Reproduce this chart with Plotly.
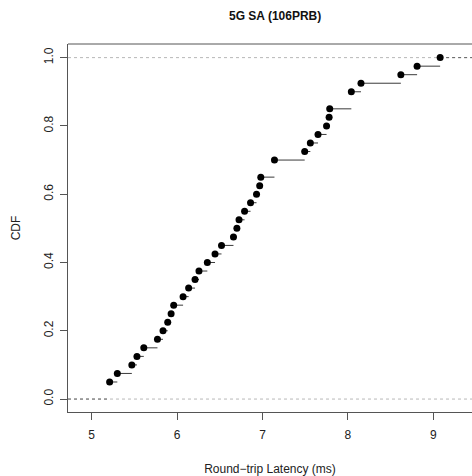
import plotly.graph_objects as go

# Unique latency values (ms) and ECDF level at each
latency = [5.21, 5.30, 5.47, 5.53, 5.61, 5.77, 5.835, 5.89, 5.93, 5.96,
           6.07, 6.135, 6.21, 6.256, 6.354, 6.444, 6.52, 6.66, 6.70, 6.725,
           6.79, 6.86, 6.93, 6.967, 6.98, 7.14, 7.494, 7.56, 7.65, 7.75,
           7.78, 7.787, 8.04, 8.153, 8.62, 8.81, 9.08]
cdf = [0.05, 0.075, 0.1, 0.125, 0.15, 0.175, 0.2, 0.225, 0.25, 0.275,
       0.3, 0.325, 0.35, 0.375, 0.4, 0.425, 0.45, 0.475, 0.5, 0.525,
       0.55, 0.575, 0.6, 0.625, 0.65, 0.7, 0.725, 0.75, 0.775, 0.8,
       0.825, 0.85, 0.9, 0.925, 0.95, 0.975, 1.0]
x_ticks = [5, 6, 7, 8, 9]
y_ticks = [0.0, 0.2, 0.4, 0.6, 0.8, 1.0]
y_tick_labels = ["0.0", "0.2", "0.4", "0.6", "0.8", "1.0"]

XR = [4.7225, 9.453]
YR = [-0.0379, 1.0399]

seg_x, seg_y = [], []
for i in range(len(latency) - 1):
    seg_x += [latency[i], latency[i + 1], None]
    seg_y += [cdf[i], cdf[i], None]

FONT = "Liberation Sans, Arial, Helvetica, sans-serif"

fig = go.Figure()
# reference lines at 0 and 1
for yv in (0, 1):
    fig.add_shape(type="line", xref="paper", x0=0, x1=1, yref="y", y0=yv, y1=yv,
                  line=dict(color="#b8b8b8", width=1, dash="3px,3px"), layer="below")
# steps
fig.add_trace(go.Scatter(x=seg_x, y=seg_y, mode="lines",
                         line=dict(color="#3a3a3a", width=1), hoverinfo="skip"))
# extensions
fig.add_trace(go.Scatter(x=[XR[0], latency[0]], y=[0, 0], mode="lines",
                         line=dict(color="#666", width=1, dash="3px,3px"), hoverinfo="skip"))
fig.add_trace(go.Scatter(x=[latency[-1], XR[1]], y=[cdf[-1], cdf[-1]], mode="lines",
                         line=dict(color="#666", width=1, dash="3px,3px"), hoverinfo="skip"))
# points
fig.add_trace(go.Scatter(x=latency, y=cdf, mode="markers",
                         marker=dict(color="black", size=7)))

# top border
fig.add_shape(type="line", xref="paper", yref="paper", x0=0, x1=1, y0=1, y1=1,
              line=dict(color="#555", width=1))

fig.update_layout(
    width=472, height=476,
    margin=dict(l=68, r=0, t=44, b=62),
    plot_bgcolor="white", paper_bgcolor="white",
    showlegend=False,
    font=dict(family=FONT, size=12, color="#222"),
    xaxis=dict(range=XR, tickvals=x_ticks, ticks="outside", ticklen=7,
               tickcolor="#555", showline=True, linecolor="#555", linewidth=1,
               showgrid=False, zeroline=False, ticklabelstandoff=5,
               tickfont=dict(size=12, color="#222"),
               title=dict(text="Round−trip Latency (ms)", standoff=25,
                          font=dict(size=12, color="#222"))),
    yaxis=dict(range=YR, tickvals=y_ticks, ticktext=y_tick_labels,
               ticks="outside", ticklen=7, tickcolor="#555", tickangle=-90,
               showline=True, linecolor="#555", linewidth=1,
               showgrid=False, zeroline=False, ticklabelstandoff=2,
               tickfont=dict(size=12, color="#222"),
               title=dict(text="CDF", standoff=19,
                          font=dict(size=12, color="#222"))),
)
fig.add_annotation(text="<b>5G SA (106PRB)</b>", xref="paper", yref="paper",
                   x=(275 - 68) / 404, y=1, yshift=28, showarrow=False,
                   xanchor="center", yanchor="middle",
                   font=dict(family=FONT, size=12, color="#111"))

fig.write_html(
    "out.html",
    config={"displayModeBar": False},
    post_script="document.body.style.margin='0';document.body.style.overflow='hidden';",
)
